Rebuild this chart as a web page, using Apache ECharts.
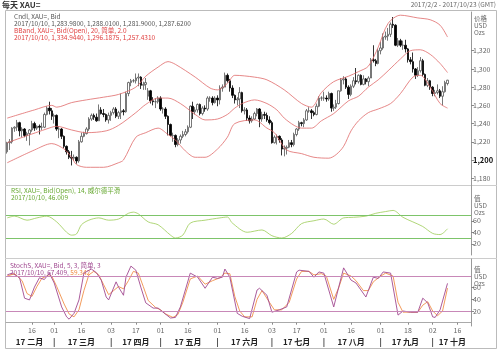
<!DOCTYPE html>
<html><head><meta charset="utf-8">
<script src="https://cdn.jsdelivr.net/npm/echarts@6/dist/echarts.min.js"></script>
<style>html,body{margin:0;padding:0;background:#fff}#chart{width:500px;height:352px}</style>
</head><body><div id="chart"></div>
<script>
// daily bars, Feb 2 - Oct 10 2017 (axis runs to Oct 23)
const opens = [
  1209,1219,1220,1235,1236,1241,1232,1234,1227,1229,1233,1240,1235,1237,1236,1236,1250,1257,1254,
  1248,1249,1234,1234,1226,1215,1209,1203,1202,1203,1199,1220,1226,1229,1234,1245,1249,1247,1243,1255,1251,1250,1244,
  1249,1252,1256,1248,1252,1254,1253,1273,1285,1287,1287,1290,1291,1282,1283,1270,1276,1265,1264,1264,
  1268,1256,1256,1248,1239,1227,1227,1217,1222,1226,1228,1231,1236,1259,1253,1255,1261,1251,1257,1256,1268,1268,1263,
  1268,1266,1279,1280,1293,1287,1279,1271,1266,1267,1274,1254,1255,1246,1243,1245,1251,1256,1245,1250,1249,1244,
  1241,1219,1225,1226,1222,1212,1213,1214,1219,1217,1228,1234,1241,1240,1244,1254,1254,1252,1250,1259,1268,
  1268,1268,1267,1273,1257,1258,1262,1276,1288,1289,1280,1272,1281,1287,1286,1293,1283,1289,1286,1290,1310,1309,1306,
  1320,1323,1335,1336,1338,1349,1348,1326,1331,1326,1326,1322,1310,1308,1300,1293,1298,1309,1294,1282,1287,
  1280,1273,1274,1276,1270,1275,1283.98
];
const closes = [
  1219,1220,1235,1236,1241,1232,1234,1227,1229,1233,1240,1235,1237,1236,1236,1250,1257,1254,1248,
  1249,1234,1234,1226,1215,1209,1203,1202,1203,1199,1220,1226,1229,1234,1245,1249,1247,1243,1255,1251,1250,1244,1249,
  1252,1256,1248,1252,1254,1253,1273,1285,1287,1287,1290,1291,1282,1283,1285,1276,1265,1264,1264,1268,
  1256,1256,1248,1239,1227,1227,1217,1222,1226,1228,1231,1236,1259,1253,1255,1261,1251,1257,1256,1268,1268,1263,1268,
  1266,1279,1280,1293,1287,1279,1271,1266,1267,1274,1254,1255,1246,1243,1245,1251,1256,1245,1250,1249,1244,1241,
  1219,1225,1226,1222,1212,1213,1214,1219,1217,1228,1234,1241,1240,1244,1254,1254,1252,1250,1259,1268,1268,
  1268,1267,1273,1257,1258,1262,1276,1288,1289,1280,1272,1281,1287,1286,1293,1283,1289,1286,1290,1310,1309,1306,1320,
  1323,1335,1336,1338,1349,1348,1326,1331,1326,1326,1322,1310,1308,1300,1293,1298,1309,1294,1282,1287,1280,
  1273,1274,1276,1270,1275,1285,1287.62
];
const lows = [
  1207,1211,1218,1231,1232,1226,1225,1225,1221,1216,1231,1232,1233,1228,1233,1235,1249,1250,1244,
  1240,1232,1224,1223,1213,1206,1201,1194,1199,1196,1197,1219,1225,1228,1232,1243,1244,1242,1243,1250,1247,1242,1240,
  1243,1250,1246,1245,1245,1249,1252,1270,1281,1285,1284,1281,1278,1277,1277,1266,1262,1260,1257,1262,
  1254,1251,1245,1227,1226,1220,1214,1215,1218,1224,1226,1229,1235,1245,1250,1252,1249,1249,1253,1254,1264,1260,1262,
  1259,1261,1275,1280,1285,1275,1268,1262,1260,1257,1252,1250,1243,1240,1241,1244,1248,1236,1242,1245,1242,1239,
  1218,1218,1217,1219,1205,1204,1206,1213,1214,1215,1226,1232,1237,1236,1243,1252,1245,1248,1249,1258,1265,
  1265,1264,1265,1253,1254,1256,1261,1275,1283,1278,1267,1270,1279,1283,1284,1282,1282,1283,1281,1290,1307,1303,1305,
  1316,1321,1332,1331,1335,1345,1325,1324,1324,1321,1318,1307,1305,1296,1289,1291,1296,1292,1281,1280,1277,
  1270,1270,1272,1268,1260,1274,1281.9
];
const highs = [
  1220,1223,1236,1237,1244,1242,1236,1235,1231,1234,1243,1242,1238,1239,1241,1252,1259,1264,1257,
  1251,1250,1237,1235,1227,1216,1211,1210,1206,1204,1222,1230,1231,1236,1247,1251,1251,1251,1261,1258,1256,1251,1252,
  1254,1258,1258,1254,1273,1256,1275,1286,1289,1289,1295,1295,1292,1286,1290,1279,1277,1269,1268,1270,
  1270,1258,1258,1249,1240,1230,1228,1224,1228,1232,1234,1238,1260,1264,1258,1262,1262,1259,1260,1270,1270,1270,1270,
  1271,1282,1283,1296,1295,1289,1282,1272,1269,1280,1275,1258,1257,1249,1248,1253,1257,1257,1253,1253,1252,1248,
  1243,1227,1228,1227,1224,1216,1216,1222,1222,1230,1235,1243,1242,1246,1256,1258,1256,1254,1262,1270,1270,
  1275,1271,1275,1274,1261,1266,1276,1290,1292,1291,1282,1283,1291,1301,1294,1294,1293,1290,1292,1312,1326,1311,1322,
  1330,1339,1341,1345,1351,1357,1349,1334,1333,1331,1332,1323,1313,1318,1301,1302,1313,1311,1295,1290,1288,
  1281,1277,1283,1278,1281,1287,1288.01
];

// Bollinger (20, 2.0): [bar index, value]
const bbUpper = [[0,1246],[11,1255],[18,1260],[20,1258],[26,1263],[32,1266],[39,1269],[45,1272],[52,1280],[56,1292],[61,1302],[65,1308],[68,1305],[76,1291],[82,1279],[85,1277],[89,1284],[92,1293],[100,1291],[105,1288],[112,1277],[119,1262],[123,1258],[127,1274],[132,1286],[138,1292],[142,1297],[146,1303],[150,1324],[154,1350],[159,1359],[166,1356],[171,1354],[175,1348],[178,1335]];
const bbMiddle = [[0,1219],[18,1236],[20,1237],[26,1233],[32,1230],[40,1232],[45,1238],[52,1252],[56,1261],[61,1268],[65,1268],[70,1262],[76,1250],[80,1244],[85,1245],[89,1250],[92,1257],[95,1262],[100,1266],[105,1262],[109,1255],[112,1246],[116,1238],[119,1235],[123,1235],[127,1243],[132,1251],[138,1265],[142,1270],[146,1280],[150,1288],[154,1298],[159,1311],[163,1320],[167,1321],[171,1316],[175,1306],[178,1296]];
const bbLower = [[0,1197],[11,1211],[18,1218],[23,1212],[26,1203],[28,1195],[32,1192],[39,1192],[45,1197],[47,1200],[52,1225],[56,1230],[61,1235],[65,1228],[68,1222],[72,1210],[76,1203],[80,1203],[85,1212],[89,1225],[92,1240],[100,1244],[105,1235],[108,1230],[113,1211],[119,1207],[124,1203],[130,1202],[133,1206],[136,1215],[139,1232],[142,1243],[146,1252],[150,1256],[155,1262],[159,1273],[164,1291],[167,1293],[171,1280],[175,1262],[178,1257]];

// RSI 14
const rsi = [[0,65],[3,68],[8,61],[12,65],[16,68],[20,58],[24,40],[26,35],[28,37],[30,53],[33,61],[37,65],[41,61],[45,63],[49,73],[51,75],[53,72],[57,58],[61,53],[66,35],[68,30],[71,35],[74,56],[80,61],[86,65],[89,66.5],[91,56],[97,40],[103,44],[107,34],[111,30],[115,38],[119,55],[124,60],[128,63],[132,54],[136,65],[140,66],[145,68],[149,73],[153,76],[156,78],[160,66],[164,58],[168,50],[172,38],[175,36],[178,46]];

// Slow stochastic 5,3,3
const stochK = [[0,82],[2,85],[5,77],[7,42],[9,39],[11,61],[13,77],[15,74],[17,85],[19,68],[22,27],[24,10],[25,6],[27,16],[29,39],[31,85],[34,92],[36,86],[38,73],[40,44],[41,39],[44,70],[45,61],[47,47],[48,78],[50,97],[52,90],[54,61],[56,34],[59,25],[61,25],[63,18],[66,8],[68,9],[70,27],[74,85],[77,78],[80,59],[83,78],[85,76],[87,78],[88,92],[90,78],[93,16],[95,11],[98,7],[101,56],[102,59],[105,47],[107,18],[110,22],[113,27],[117,87],[118,90],[122,88],[124,78],[126,87],[128,85],[132,27],[136,94],[139,73],[141,68],[145,44],[148,78],[150,76],[152,87],[155,85],[158,13],[160,20],[163,18],[166,18],[168,42],[170,34],[172,10],[173,9],[175,22],[178,67.4]];
const stochD = [[0,80],[3,84],[6,72],[8,50],[10,45],[12,62],[14,76],[16,80],[18,80],[20,62],[23,32],[25,15],[27,10],[29,22],[31,55],[33,82],[35,88],[37,82],[39,65],[41,48],[43,55],[45,62],[47,58],[49,72],[51,88],[53,85],[55,62],[57,38],[60,26],[62,22],[64,15],[67,9],[69,14],[71,35],[74,75],[77,80],[80,66],[83,72],[86,77],[88,85],[90,84],[92,45],[94,20],[96,10],[99,10],[101,40],[103,55],[106,35],[108,22],[111,22],[114,35],[117,75],[119,88],[122,88],[124,82],[127,84],[129,80],[132,40],[134,60],[136,85],[139,80],[141,72],[144,55],[146,55],[148,70],[151,80],[153,85],[156,80],[158,35],[160,18],[163,18],[166,18],[168,30],[170,36],[172,20],[174,12],[176,20],[178,59.3]];

const monthNames = ['一月','二月','三月','四月','五月','六月','七月','八月','九月','十月','十一月','十二月'];
const priceTicks = [1180,1200,1220,1240,1260,1280,1300,1320];

// trading-day categories
const dates = [];
for (let d = new Date(Date.UTC(2017,1,2)); d <= new Date(Date.UTC(2017,9,23)); d.setUTCDate(d.getUTCDate()+1)) {
  const w = d.getUTCDay();
  if (w === 0 || w === 6) continue;
  dates.push(d.toISOString().slice(0,10));
}
const candles = opens.map((o,i) => [o, closes[i], lows[i], highs[i]]);

// tick label positions: first trading day on/after the 1st and 16th
const dayLbl = {}, monLbl = {};
let monStart = 0;
dates.forEach((s,i) => {
  const m = +s.slice(5,7), dd = +s.slice(8,10);
  if (i > 0) {
    const pm = +dates[i-1].slice(5,7), pd = +dates[i-1].slice(8,10);
    if (m !== pm) dayLbl[i] = s.slice(8,10);
    else if (dd >= 16 && pd < 16) dayLbl[i] = s.slice(8,10);
  }
  const last = i === dates.length-1 || +dates[i+1].slice(5,7) !== m;
  if (i > 0 && +dates[i-1].slice(5,7) !== m) monLbl[i] = '|';
  if (last) { monLbl[Math.round((monStart+i)/2)] = '17 ' + monthNames[m-1]; monStart = i+1; }
});

const FONT = '"Noto Sans CJK SC", "DejaVu Sans", sans-serif';
const gridL = 6, gridR = 29;
const lineSer = (data, color, xi, yi, w) => ({
  type: 'line', data, xAxisIndex: xi, yAxisIndex: yi, smooth: 0.3, symbol: 'none',
  lineStyle: {color, width: w || 0.8}, silent: true, animation: false
});
const hLine = (vals, color) => ({
  silent: true, symbol: 'none', label: {show: false},
  lineStyle: {color, width: 1, type: 'solid'},
  data: vals.map(v => ({yAxis: v}))
});
const catAxis = (gi) => ({
  type: 'category', gridIndex: gi, data: dates, boundaryGap: true,
  axisLine: {show: false}, axisTick: {show: false}, axisLabel: {show: false}, splitLine: {show: false}
});
const valAxis = (gi, min, max, ticks, fmt) => ({
  type: 'value', gridIndex: gi, position: 'right', min, max, scale: true,
  splitLine: {show: false},
  axisLine: {show: true, lineStyle: {color: '#999', width: 1}},
  axisTick: {show: true, length: 3, customValues: ticks, lineStyle: {color: '#888'}},
  axisLabel: {show: true, customValues: ticks, fontSize: 7, color: '#666', margin: 2, fontFamily: FONT,
    formatter: fmt, rich: {b: {fontSize: 7.5, fontWeight: 'bold', color: '#111'}}}
});

const chart = echarts.init(document.getElementById('chart'), null, {renderer: 'canvas'});
chart.setOption({
  animation: false,
  backgroundColor: '#fff',
  grid: [
    {left: gridL, right: gridR, top: 12, height: 173},
    {left: gridL, right: gridR, top: 185, height: 70},
    {left: gridL, right: gridR, top: 259, height: 67}
  ],
  xAxis: [
    catAxis(0), catAxis(1),
    Object.assign(catAxis(2), {
      axisLine: {show: true, lineStyle: {color: '#aaa'}},
      axisTick: {show: true, length: 2, alignWithLabel: true, interval: (i) => !!dayLbl[i], lineStyle: {color: '#888'}},
      axisLabel: {show: true, interval: (i) => !!dayLbl[i], formatter: (v, i) => dayLbl[i] || '', fontSize: 7, color: '#666', margin: 1, fontFamily: FONT}
    }),
    Object.assign(catAxis(2), {
      position: 'bottom', offset: 10,
      axisLabel: {show: true, interval: (i) => !!monLbl[i], formatter: (v, i) => monLbl[i] || '', fontSize: 8, fontWeight: 'bold', color: '#222', margin: 2, fontFamily: FONT}
    })
  ],
  yAxis: [
    valAxis(0, 1172.55, 1362.5, priceTicks, v => v === 1200 ? '{b|1,200}' : echarts.format.addCommas(v)),
    valAxis(1, 0.43, 122.2, [20, 40, 60], v => String(v)),
    valAxis(2, -5.7, 109.2, [20, 40, 60], v => String(v))
  ],
  series: [
    {
      type: 'candlestick', xAxisIndex: 0, yAxisIndex: 0, data: candles, barWidth: 2, silent: true,
      itemStyle: {color: '#fff', color0: '#000', borderColor: '#555', borderColor0: '#000', borderWidth: 0.8}
    },
    lineSer(bbUpper, '#e06a6a', 0, 0),
    lineSer(bbMiddle, '#e06a6a', 0, 0),
    lineSer(bbLower, '#e06a6a', 0, 0),
    Object.assign(lineSer(rsi, '#9ccc55', 1, 1), {markLine: hLine([70, 30], '#7dc46a')}),
    Object.assign(lineSer(stochD, '#f0904a', 2, 2, 0.9), {smooth: false, markLine: hLine([80, 20], '#c888b8')}),
    Object.assign(lineSer(stochK, '#a04890', 2, 2, 0.9), {smooth: false})
  ],
  graphic: [
    {type: 'rect', shape: {x: 5.5, y: 10.5, width: 491, height: 338}, style: {fill: 'none', stroke: '#bbb', lineWidth: 1}, silent: true},
    {type: 'line', shape: {x1: 5, y1: 185.5, x2: 497, y2: 185.5}, style: {stroke: '#ccc', lineWidth: 1}, silent: true},
    {type: 'line', shape: {x1: 5, y1: 258.5, x2: 497, y2: 258.5}, style: {stroke: '#ccc', lineWidth: 1}, silent: true},
    {type: 'text', left: 2, top: 1, style: {text: '每天 XAU=', fontSize: 8, fontWeight: 'bold', fill: '#333', fontFamily: FONT}},
    {type: 'text', right: 4, top: 1, style: {text: '2017/2/2 - 2017/10/23 (GMT)', fontSize: 6.5, fill: '#666', fontFamily: FONT}},
    {type: 'text', left: 14, top: 13, style: {text: 'Cndl, XAU=, Bid', fontSize: 6.5, fill: '#555', fontFamily: FONT}},
    {type: 'text', left: 14, top: 20, style: {text: '2017/10/10, 1,283.9800, 1,288.0100, 1,281.9000, 1,287.6200', fontSize: 6.5, fill: '#555', fontFamily: FONT}},
    {type: 'text', left: 14, top: 27, style: {text: 'BBand, XAU=, Bid(Open), 20, 简单, 2.0', fontSize: 6.5, fill: '#e04040', fontFamily: FONT}},
    {type: 'text', left: 14, top: 34, style: {text: '2017/10/10, 1,334.9440, 1,296.1875, 1,257.4310', fontSize: 6.5, fill: '#e04040', fontFamily: FONT}},
    {type: 'text', left: 11, top: 187, style: {text: 'RSI, XAU=, Bid(Open), 14, 威尔德平滑', fontSize: 6.5, fill: '#66a830', fontFamily: FONT}},
    {type: 'text', left: 11, top: 194, style: {text: '2017/10/10, 46.009', fontSize: 6.5, fill: '#66a830', fontFamily: FONT}},
    {type: 'text', left: 10, top: 262, style: {text: 'StochS, XAU=, Bid, 5, 3, 简单, 3', fontSize: 6.5, fill: '#a04890', fontFamily: FONT}},
    {type: 'text', left: 10, top: 269, style: {rich: {a: {fill: '#a04890', fontSize: 6.5, fontFamily: FONT}, b: {fill: '#f08a40', fontSize: 6.5, fontFamily: FONT}}, text: '{a|2017/10/10, 67.409, }{b|59.342}'}},
    {type: 'text', left: 474, top: 15, style: {text: '价格\nUSD\nOzs', fontSize: 6.5, lineHeight: 7, fill: '#666', fontFamily: FONT}},
    {type: 'text', left: 474, top: 195, style: {text: '值\nUSD\nOzs', fontSize: 6.5, lineHeight: 7, fill: '#666', fontFamily: FONT}},
    {type: 'text', left: 474, top: 266, style: {text: '值\nUSD\nOzs', fontSize: 6.5, lineHeight: 7, fill: '#666', fontFamily: FONT}}
  ]
});
</script></body></html>
